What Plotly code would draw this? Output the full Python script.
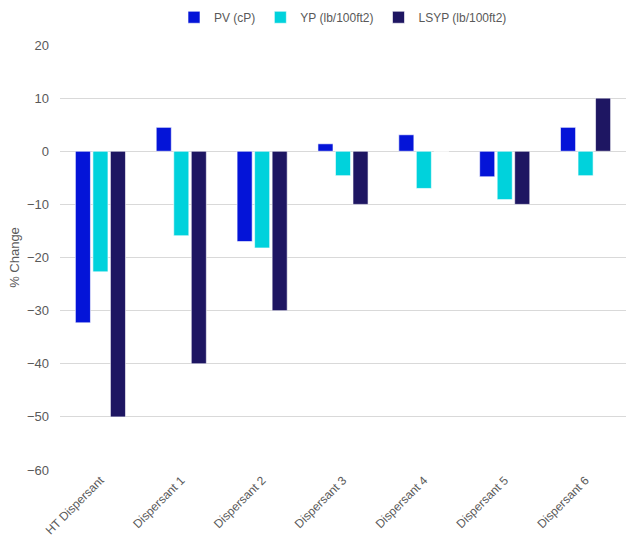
import plotly.graph_objects as go

categories = ["HT Dispersant", "Dispersant 1", "Dispersant 2", "Dispersant 3",
              "Dispersant 4", "Dispersant 5", "Dispersant 6"]
pv = [-32.3, 4.5, -17.0, 1.4, 3.1, -4.8, 4.5]
yp = [-22.7, -15.9, -18.2, -4.6, -7.0, -9.1, -4.6]
lsyp = [-50, -40, -30, -10, 0, -10, 10]
series_names = ["PV (cP)", "YP (lb/100ft2)", "LSYP (lb/100ft2)"]
colors = ["#0414D8", "#00D2DC", "#1E1662"]
y_ticks = [20, 10, 0, -10, -20, -30, -40, -50, -60]

fig = go.Figure()
for name, vals, c in zip(series_names, [pv, yp, lsyp], colors):
    fig.add_trace(go.Bar(x=categories, y=vals, name=name,
                         marker=dict(color=c, line=dict(color="rgba(255,255,255,0.6)", width=1))))

fig.update_layout(
    width=626, height=550,
    margin=dict(l=60, r=0, t=45, b=80),
    paper_bgcolor="white", plot_bgcolor="white",
    barmode="group", bargap=0.35, bargroupgap=0.14,
    font=dict(family="Liberation Sans, Arial, sans-serif", color="#595959", size=13),
    legend=dict(orientation="h", x=0.5, xanchor="center", y=0.995, yanchor="top",
                yref="container", font=dict(size=12)),
    showlegend=True,
)
fig.update_xaxes(tickangle=-45, showgrid=False, zeroline=False, showline=False, tickfont=dict(size=12))
fig.update_yaxes(range=[-60, 20], tickvals=y_ticks, showgrid=True, gridcolor="#D9D9D9",
                 zeroline=True, zerolinecolor="#D9D9D9", zerolinewidth=1,
                 title=dict(text="% Change", font=dict(size=13), standoff=4),
                 ticklabelstandoff=10)
fig.write_html("out.html")
